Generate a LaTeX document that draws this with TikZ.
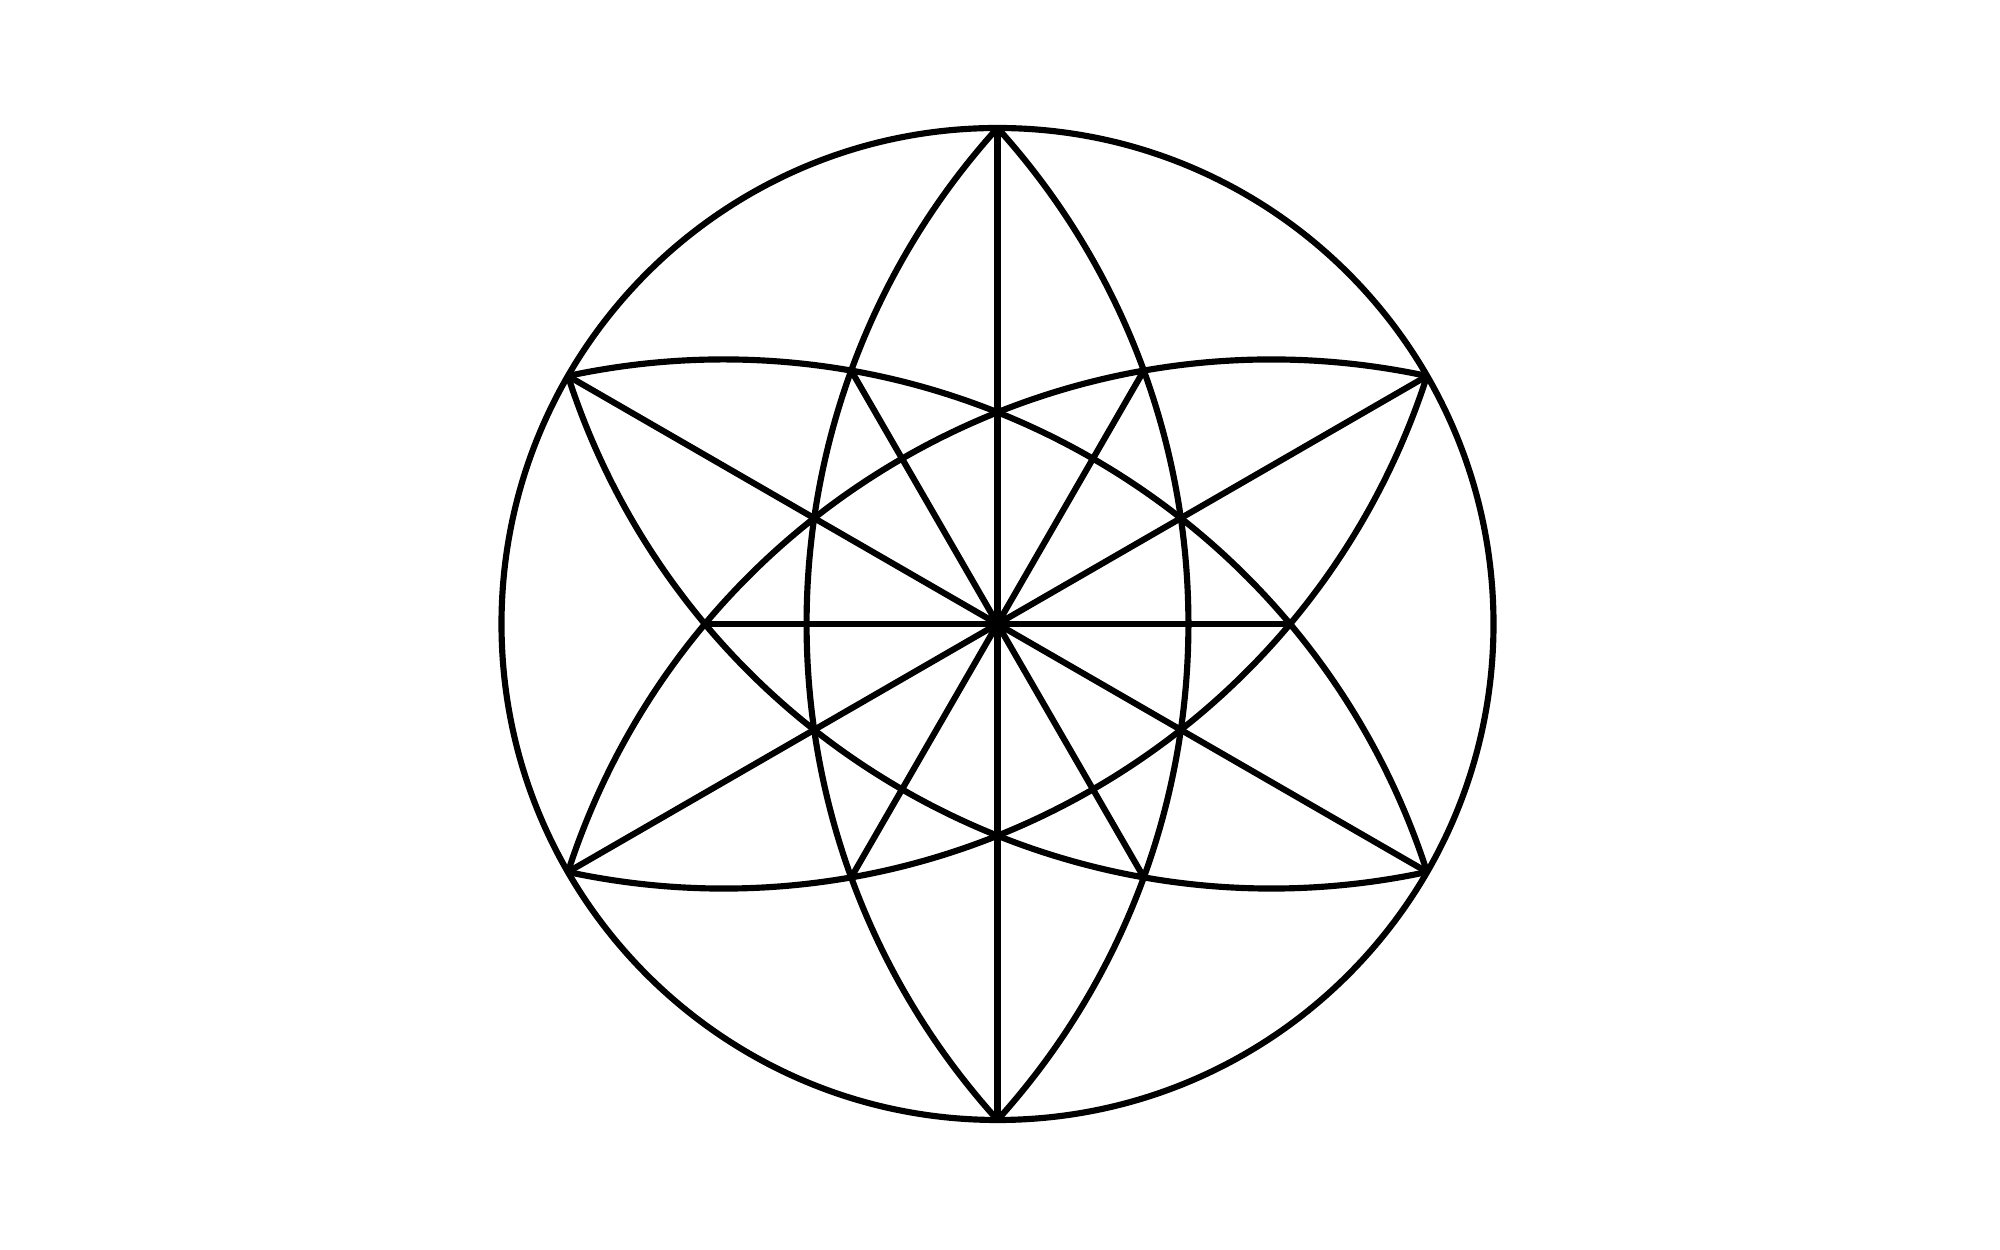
\documentclass[tikz,border=0pt]{standalone}
\usepackage{tikz}
\usetikzlibrary{calc}

\begin{document}
\begin{tikzpicture}[line width=1.75pt,line join=round,
	rim/.style={draw,black},
	petal/.style={draw,black},
	spoke/.style={draw,black}]

	\useasboundingbox (0,0) rectangle (20,12.5);
	\def\rad{4.96}
	% lens arcs: bulge 0.385 of the radius
	\pgfmathsetmacro{\lensrad}{1.4912*\rad}
	\pgfmathsetmacro{\lensang}{atan(1/1.1062)}

	\coordinate (c) at (9.975,6.26);
	\foreach \a [count=\i] in {30,90,...,330} {
		\coordinate (v\i) at ($(c)+(\a:\rad)$);
		\coordinate (x\i) at ($(c)+(\a-30:0.59*\rad)$);
	}

	\draw[rim] (c) circle[radius=\rad];

	\foreach \i in {1,...,6} {
		\draw[spoke] (c) -- (v\i);
		\draw[spoke] (c) -- (x\i);
	}

	\foreach \r in {0,60,120} {
		\begin{scope}[shift={(c)},rotate=\r]
			\draw[petal] (0,\rad) arc[start angle=\lensang,end angle=-\lensang,radius=\lensrad];
			\draw[petal] (0,\rad) arc[start angle=180-\lensang,end angle=180+\lensang,radius=\lensrad];
		\end{scope}
	}

\end{tikzpicture}
\end{document}
